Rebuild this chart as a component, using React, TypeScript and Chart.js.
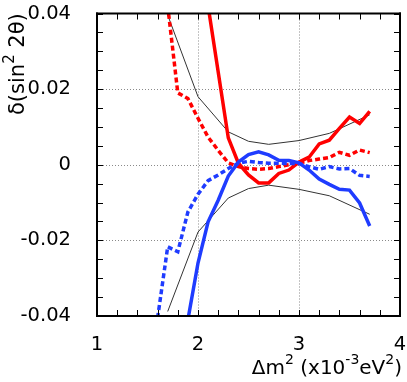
import React, { useEffect, useRef } from 'react';
import { Chart, registerables } from 'chart.js';

Chart.register(...registerables);

// ---- data (Δm² in 1e-3 eV², δ(sin² 2θ)) ----
const dm2RedSolid = [2.1, 2.2, 2.3, 2.4, 2.5, 2.6, 2.7, 2.8, 2.9, 3.0, 3.1, 3.2, 3.3, 3.4, 3.5, 3.6, 3.7];
const redSolid = [0.042, 0.0245, 0.0071, 0.0004, -0.0027, -0.0048, -0.0048, -0.0023, -0.0014, 0.0007, 0.002, 0.0055, 0.0065, 0.0096, 0.0126, 0.0109, 0.0141];

const dm2RedDashed = [1.7, 1.8, 1.9, 2.0, 2.1, 2.2, 2.3, 2.4, 2.5, 2.6, 2.7, 2.8, 2.9, 3.0, 3.1, 3.2, 3.3, 3.4, 3.5, 3.6, 3.7];
const redDashed = [0.042, 0.019, 0.0175, 0.0123, 0.0073, 0.0038, 0.0005, -0.0005, -0.001, -0.0012, -0.001, -0.0005, 0.0, 0.0004, 0.0011, 0.0015, 0.0019, 0.0033, 0.0025, 0.0039, 0.0032];

const dm2BlueSolid = [1.9, 2.0, 2.1, 2.2, 2.3, 2.4, 2.5, 2.6, 2.7, 2.8, 2.9, 3.0, 3.1, 3.2, 3.3, 3.4, 3.5, 3.6, 3.7];
const blueSolid = [-0.041, -0.026, -0.0151, -0.0094, -0.003, 0.0007, 0.0027, 0.0034, 0.0026, 0.0012, 0.0011, 0.0005, -0.0014, -0.0038, -0.0052, -0.0065, -0.0067, -0.0101, -0.0162];

const dm2BlueDashed = [1.6, 1.7, 1.8, 1.9, 2.0, 2.1, 2.2, 2.3, 2.4, 2.5, 2.6, 2.7, 2.8, 2.9, 3.0, 3.1, 3.2, 3.3, 3.4, 3.5, 3.6, 3.7];
const blueDashed = [-0.0405, -0.0217, -0.023, -0.0125, -0.0078, -0.0042, -0.0027, -0.001, 0.0004, 0.0009, 0.0006, 0.0004, 0.0004, 0.0003, 0.0003, -0.0005, -0.0012, -0.0005, -0.0011, -0.001, -0.0028, -0.0031];

const dm2Envelope = [1.7, 2.0, 2.3, 2.5, 2.7, 3.0, 3.3, 3.7];
const envelopeUpper = [0.0396, 0.018, 0.0087, 0.0062, 0.0054, 0.0064, 0.0083, 0.0132];
const envelopeLower = [-0.0388, -0.0178, -0.0088, -0.0063, -0.0054, -0.0065, -0.0082, -0.0131];

const xTickLabels = ['1', '2', '3', '4'];
const yTickLabels = ['-0.04', '-0.02', '0', '0.02', '0.04'];

const xTitleParts = [
  { t: 'Δm', sup: false },
  { t: '2', sup: true },
  { t: ' (x10', sup: false },
  { t: '-3', sup: true },
  { t: 'eV', sup: false },
  { t: '2', sup: true },
  { t: ')', sup: false },
];
const yTitleParts = [
  { t: 'δ(sin', sup: false },
  { t: '2', sup: true },
  { t: ' 2θ)', sup: false },
];

const FONT = "'DejaVu Sans', 'Liberation Sans', sans-serif";
const RED = '#ff0000';
const BLUE = '#1f3cff';

function pts(xs: number[], ys: number[]) {
  return xs.map((x, i) => ({ x, y: ys[i] }));
}

function richWidth(ctx: CanvasRenderingContext2D, parts: { t: string; sup: boolean }[], size: number, supSize: number) {
  let w = 0;
  for (const p of parts) {
    ctx.font = `${p.sup ? supSize : size}px ${FONT}`;
    w += ctx.measureText(p.t).width;
  }
  return w;
}

function drawRich(ctx: CanvasRenderingContext2D, parts: { t: string; sup: boolean }[], x: number, y: number, size: number, supSize: number, rise: number) {
  let cx = x;
  ctx.textAlign = 'left';
  ctx.textBaseline = 'alphabetic';
  for (const p of parts) {
    ctx.font = `${p.sup ? supSize : size}px ${FONT}`;
    ctx.fillText(p.t, cx, p.sup ? y - rise : y);
    cx += ctx.measureText(p.t).width;
  }
}

const decorPlugin = {
  id: 'decor',
  beforeDatasetsDraw(chart: any) {
    const { ctx, chartArea: a, scales } = chart;
    const xs = scales.x;
    const ys = scales.y;
    ctx.save();
    ctx.fillStyle = '#8a8a8a';
    // dotted grid lines drawn as 1px dots
    for (const v of [2, 3]) {
      const px = Math.round(xs.getPixelForValue(v));
      for (let y = a.top; y < a.bottom; y += 3) ctx.fillRect(px, y, 1, 1);
    }
    for (const v of [-0.02, 0, 0.02]) {
      const py = Math.round(ys.getPixelForValue(v));
      for (let x = a.left; x < a.right; x += 3) ctx.fillRect(x, py, 1, 1);
    }
    ctx.restore();
  },
  afterDatasetsDraw(chart: any) {
    const { ctx, chartArea: a, scales } = chart;
    const xs = scales.x;
    const ys = scales.y;
    ctx.save();
    ctx.fillStyle = '#000';
    const tl = 6;
    for (let i = 0; i <= 15; i++) {
      const px = Math.round(xs.getPixelForValue(1 + i * 0.2));
      ctx.fillRect(px, a.bottom - tl, 1, tl);
      ctx.fillRect(px, a.top, 1, tl);
    }
    for (let i = 0; i <= 16; i++) {
      const py = Math.round(ys.getPixelForValue(-0.04 + i * 0.005));
      ctx.fillRect(a.left, py, tl, 1);
      ctx.fillRect(a.right - tl, py, tl, 1);
    }
    const w = a.right - a.left;
    const h = a.bottom - a.top;
    ctx.fillRect(a.left - 1, a.top - 1, w + 2, 2);
    ctx.fillRect(a.left - 1, a.bottom - 1, w + 2, 2);
    ctx.fillRect(a.left - 1, a.top - 1, 2, h + 2);
    ctx.fillRect(a.right - 1, a.top - 1, 2, h + 2);

    const xw = richWidth(ctx, xTitleParts, 20, 14);
    drawRich(ctx, xTitleParts, 402 - xw, 374, 20, 14, 10);

    ctx.save();
    ctx.translate(24, 115);
    ctx.rotate(-Math.PI / 2);
    drawRich(ctx, yTitleParts, 0, 0, 21, 15, 10);
    ctx.restore();
    ctx.restore();
  },
};

export default function App() {
  const ref = useRef<HTMLCanvasElement | null>(null);

  useEffect(() => {
    if (!ref.current) return;
    const line = (data: any[], color: string, width: number, dash: number[]) => ({
      data,
      borderColor: color,
      backgroundColor: color,
      borderWidth: width,
      borderDash: dash,
      pointRadius: 0,
      tension: 0,
      fill: false,
    });
    const chart = new Chart(ref.current, {
      type: 'line',
      data: {
        datasets: [
          line(pts(dm2BlueSolid, blueSolid), BLUE, 3.5, []),
          line(pts(dm2BlueDashed, blueDashed), BLUE, 3.5, [5, 3]),
          line(pts(dm2RedSolid, redSolid), RED, 3.5, []),
          line(pts(dm2RedDashed, redDashed), RED, 3.5, [5, 3]),
          line(pts(dm2Envelope, envelopeUpper), '#333333', 1, []),
          line(pts(dm2Envelope, envelopeLower), '#333333', 1, []),
        ] as any,
      },
      options: {
        animation: false,
        responsive: false,
        devicePixelRatio: 1,
        events: [],
        layout: { padding: { left: 0, right: 7, top: 13.5, bottom: 0 } },
        plugins: { legend: { display: false }, tooltip: { enabled: false } },
        scales: {
          x: {
            type: 'linear',
            min: 1,
            max: 4,
            grid: { display: false },
            border: { display: false },
            ticks: {
              stepSize: 1,
              padding: 9,
              color: '#000',
              font: { family: FONT, size: 19.5 },
              maxRotation: 0,
              callback: (v: any) => {
                const i = Math.round(Number(v)) - 1;
                return xTickLabels[i] ?? '';
              },
            },
            afterFit: (s: any) => {
              s.height = 66;
              s.paddingLeft = 0;
              s.paddingRight = 0;
            },
          },
          y: {
            type: 'linear',
            min: -0.04,
            max: 0.04,
            grid: { display: false },
            border: { display: false },
            ticks: {
              stepSize: 0.02,
              padding: 18,
              color: '#000',
              font: { family: FONT, size: 19.5 },
              callback: (v: any) => {
                const i = Math.round((Number(v) + 0.04) / 0.02);
                return yTickLabels[i] ?? '';
              },
            },
            afterFit: (s: any) => {
              s.width = 97;
              s.paddingTop = 0;
              s.paddingBottom = 0;
            },
          },
        },
      } as any,
      plugins: [decorPlugin],
    });
    return () => chart.destroy();
  }, []);

  return (
    <div style={{ position: 'absolute', left: 0, top: 0, width: 407, height: 382, background: '#fff' }}>
      <canvas ref={ref} width={407} height={382} style={{ width: 407, height: 382 }} />
    </div>
  );
}
